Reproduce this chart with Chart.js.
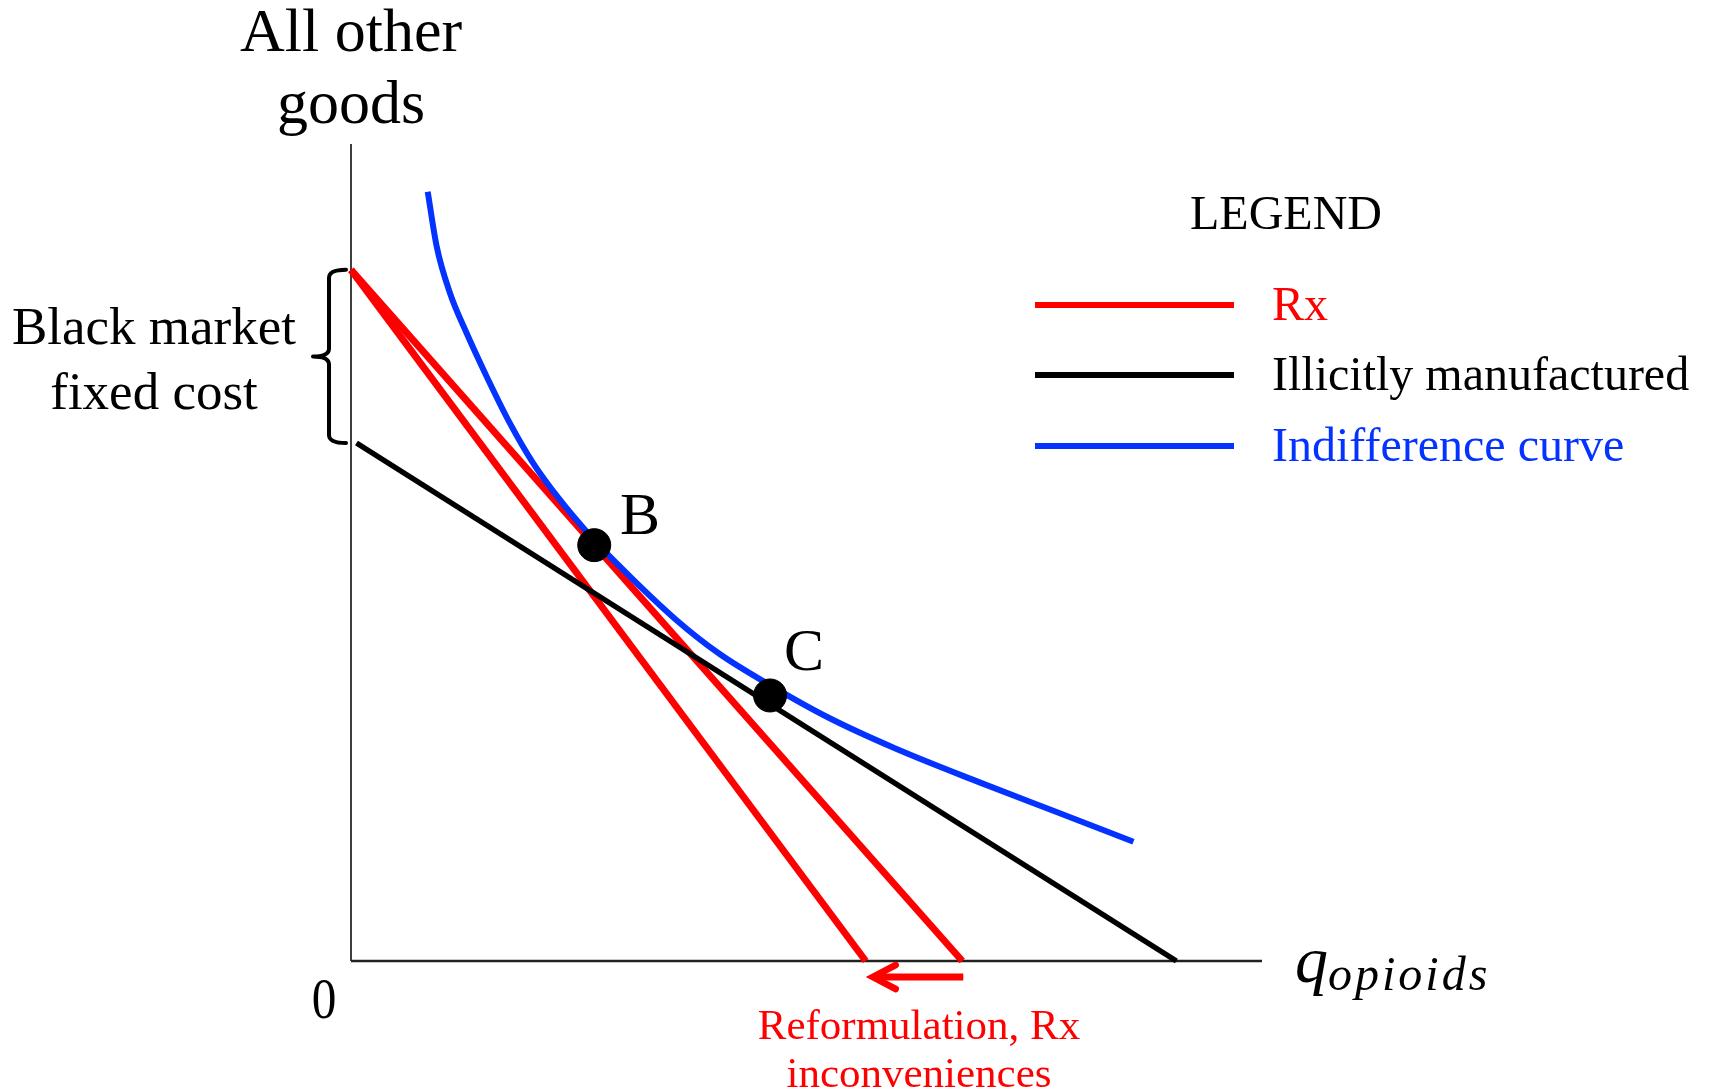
<!DOCTYPE html>
<html>
<head>
<meta charset="utf-8">
<script src="https://cdn.jsdelivr.net/npm/chart.js@4.4.1/dist/chart.umd.min.js"></script>
<style>
html,body{margin:0;padding:0;background:#fff;}
#wrap{width:1709px;height:1091px;}
</style>
</head>
<body>
<div id="wrap"><canvas id="c" width="1709" height="1091"></canvas></div>
<script>
// Data (axis units 0..100)
const rxOriginalX = [0, 67.1];
const rxOriginalY = [84.6, 0];
const rxReformX = [0, 56.5];
const rxReformY = [84.6, 0];
const illicitX = [0.6, 90.6];
const illicitY = [63.4, 0];
const indiffX = [8.42, 9.41, 10.87, 12.70, 14.90, 17.45, 20.01, 22.94, 25.87, 29.53, 35.64, 40.43, 45.94, 52.39, 59.57, 69.14, 77.52, 85.89];
const indiffY = [94.16, 87.43, 81.73, 76.83, 71.52, 65.81, 60.92, 56.43, 52.55, 48.26, 41.8, 37.6, 33.8, 29.8, 26.1, 21.8, 18.2, 14.6];
const pointLabels = ['B', 'C'];
const pointX = [26.7, 46.0];
const pointY = [50.9, 32.5];
const legendLabels = ['Rx', 'Illicitly manufactured', 'Indifference curve'];
const legendColors = ['#ff0000', '#000000', '#0433ff'];

const zip = (xs, ys) => xs.map((x, i) => ({x: x, y: ys[i]}));
const SERIF = '"Liberation Serif", "Times New Roman", serif';

const annotations = {
  id: 'annotations',
  beforeDatasetsDraw(chart) {
    const {ctx, scales: {x, y}} = chart;
    ctx.save();
    // axes
    ctx.strokeStyle = '#000';
    ctx.lineWidth = 1.5;
    ctx.beginPath();
    ctx.moveTo(x.getPixelForValue(0), y.getPixelForValue(100));
    ctx.lineTo(x.getPixelForValue(0), y.getPixelForValue(0));
    ctx.stroke();
    ctx.lineWidth = 2.5;
    ctx.strokeStyle = '#222';
    ctx.beginPath();
    ctx.moveTo(x.getPixelForValue(0), y.getPixelForValue(0));
    ctx.lineTo(x.getPixelForValue(100), y.getPixelForValue(0));
    ctx.stroke();
    ctx.restore();
  },
  afterDatasetsDraw(chart) {
    const {ctx, scales: {x, y}} = chart;
    ctx.save();
    ctx.fillStyle = '#000';
    ctx.textAlign = 'center';
    ctx.textBaseline = 'alphabetic';
    // y-axis title
    ctx.font = '62px ' + SERIF;
    ctx.fillText('All other', 351, 51);
    ctx.fillText('goods', 351, 123);
    // black market fixed cost
    ctx.font = '53px ' + SERIF;
    ctx.fillText('Black market', 154, 344);
    ctx.fillText('fixed cost', 154, 409);
    // bracket
    const top = y.getPixelForValue(rxOriginalY[0]);
    const bot = y.getPixelForValue(illicitY[0]);
    const mid = (top + bot) / 2;
    ctx.strokeStyle = '#000';
    ctx.lineWidth = 4;
    ctx.lineJoin = 'round';
    ctx.lineCap = 'round';
    ctx.beginPath();
    ctx.moveTo(346, top);
    ctx.quadraticCurveTo(329, top, 329, top + 8);
    ctx.lineTo(329, mid - 8);
    ctx.quadraticCurveTo(329, mid, 313, mid);
    ctx.quadraticCurveTo(329, mid, 329, mid + 8);
    ctx.lineTo(329, bot - 8);
    ctx.quadraticCurveTo(329, bot, 346, bot);
    ctx.stroke();
    // origin
    ctx.save();
    ctx.translate(324, 1018);
    ctx.scale(0.85, 1);
    ctx.font = '58px ' + SERIF;
    ctx.fillText('0', 0, 0);
    ctx.restore();
    // x-axis title
    ctx.textAlign = 'left';
    ctx.font = 'italic 66px ' + SERIF;
    ctx.fillText('q', 1295, 982);
    ctx.font = 'italic 48px ' + SERIF;
    try { ctx.letterSpacing = '3px'; } catch (e) {}
    ctx.fillText('opioids', 1328, 990);
    try { ctx.letterSpacing = '0px'; } catch (e) {}
    // B, C labels
    ctx.font = '60px ' + SERIF;
    ctx.fillText('B', 620, 534);
    ctx.fillText('C', 784, 670);
    // arrow
    ctx.strokeStyle = '#ff0000';
    ctx.fillStyle = '#ff0000';
    ctx.lineWidth = 7;
    ctx.lineCap = 'butt';
    const ax0 = x.getPixelForValue(rxOriginalX[1]);
    const ax1 = x.getPixelForValue(rxReformX[1]);
    ctx.beginPath();
    ctx.moveTo(ax0 + 1, 977);
    ctx.lineTo(ax1 + 10, 977);
    ctx.stroke();
    ctx.lineWidth = 6.5;
    ctx.lineCap = 'round';
    ctx.lineJoin = 'miter';
    ctx.beginPath();
    ctx.moveTo(ax1 + 30, 965);
    ctx.lineTo(ax1 + 7, 977);
    ctx.lineTo(ax1 + 30, 989);
    ctx.stroke();
    ctx.textAlign = 'center';
    ctx.font = '43px ' + SERIF;
    ctx.fillText('Reformulation, Rx', 919, 1039);
    ctx.fillText('inconveniences', 919, 1087);
    // legend
    ctx.fillStyle = '#000';
    ctx.font = '48px ' + SERIF;
    ctx.fillText('LEGEND', 1286, 229);
    const ly = [305, 375, 446];
    ctx.textAlign = 'left';
    ctx.textBaseline = 'middle';
    ctx.lineCap = 'butt';
    legendLabels.forEach((lab, i) => {
      ctx.strokeStyle = legendColors[i];
      ctx.lineWidth = 6;
      ctx.beginPath();
      ctx.moveTo(1035, ly[i]);
      ctx.lineTo(1234, ly[i]);
      ctx.stroke();
      ctx.fillStyle = legendColors[i];
      ctx.font = '48px ' + SERIF;
      ctx.fillText(lab, 1272, ly[i] + 2);
    });
    ctx.restore();
  }
};

new Chart(document.getElementById('c'), {
  type: 'scatter',
  data: {
    datasets: [
      {label: 'Points ' + pointLabels.join(', '), data: zip(pointX, pointY), showLine: false, backgroundColor: '#000', borderColor: '#000', borderWidth: 1, pointRadius: 16.5, pointHoverRadius: 16.5, clip: 20, order: 0},
      {label: 'Indifference curve', data: zip(indiffX, indiffY), showLine: true, borderColor: '#0433ff', borderWidth: 6, pointRadius: 0, cubicInterpolationMode: 'monotone', clip: 20, order: 1},
      {label: 'Illicitly manufactured', data: zip(illicitX, illicitY), showLine: true, borderColor: '#000', borderWidth: 5.5, pointRadius: 0, clip: 20, order: 2},
      {label: 'Rx (reformulated)', data: zip(rxReformX, rxReformY), showLine: true, borderColor: '#ff0000', borderWidth: 7, pointRadius: 0, clip: 20, order: 3},
      {label: 'Rx', data: zip(rxOriginalX, rxOriginalY), showLine: true, borderColor: '#ff0000', borderWidth: 7, pointRadius: 0, clip: 20, order: 4}
    ]
  },
  options: {
    responsive: false,
    animation: false,
    events: [],
    layout: {padding: {left: 351, right: 447, top: 144, bottom: 130}},
    plugins: {legend: {display: false}, tooltip: {enabled: false}},
    scales: {
      x: {type: 'linear', min: 0, max: 100, display: false},
      y: {type: 'linear', min: 0, max: 100, display: false}
    }
  },
  plugins: [annotations]
});
</script>
</body>
</html>
